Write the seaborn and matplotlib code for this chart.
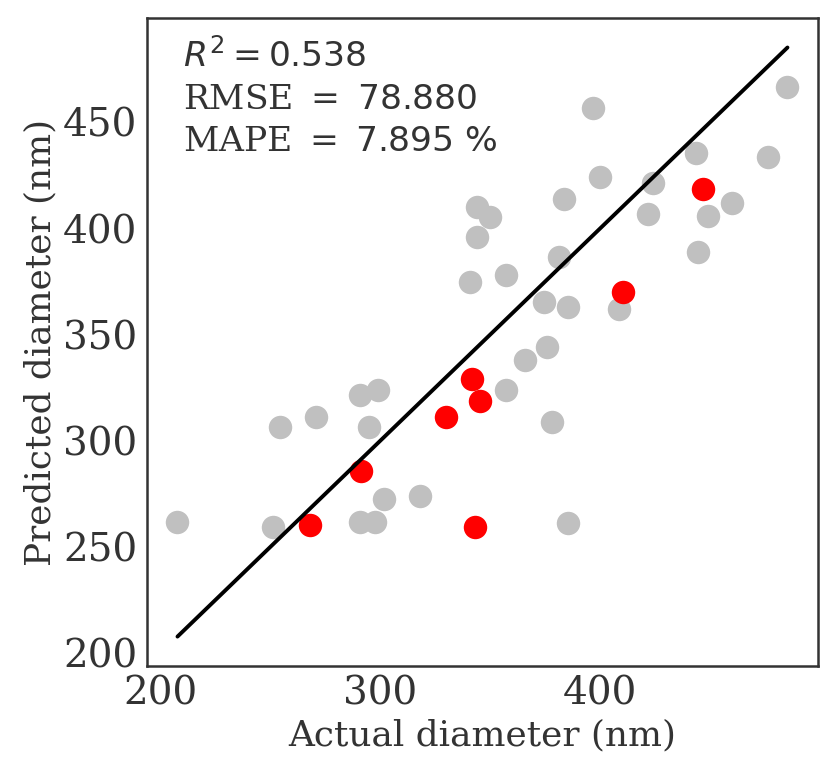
import numpy as np
import pandas as pd
import matplotlib
matplotlib.use("Agg")
import matplotlib.pyplot as plt
import seaborn as sns


# grey points (training set)
train_actual = [207.8, 251.2, 254.5, 271.0, 290.8, 299.1, 295.0, 301.7, 318.2, 290.8,
                297.6, 485.3, 396.8, 443.7, 476.5, 399.9, 424.0, 460.0, 449.1, 421.7,
                383.6, 344.0, 350.1, 344.0, 444.5, 381.3, 341.0, 357.3, 374.5, 385.6,
                408.7, 376.0, 366.1, 357.4, 378.0, 385.6]
train_pred = [261.6, 259.6, 306.4, 311.2, 321.4, 323.8, 306.4, 272.6, 274.2, 261.6,
              261.6, 466.6, 457.0, 435.5, 433.9, 424.1, 421.3, 411.9, 406.0, 407.1,
              413.9, 410.3, 405.3, 396.1, 389.0, 386.7, 374.9, 378.0, 365.4, 363.1,
              362.3, 344.2, 338.2, 323.8, 308.8, 261.1]

# red points (test set)
test_actual = [267.9, 291.5, 330.0, 342.0, 345.2, 343.0, 410.7, 446.8]
test_pred = [260.5, 286.0, 311.2, 329.3, 319.0, 259.2, 369.9, 418.5]

metrics_text = "$R^2 = 0.538$\nRMSE $=$ $78.880$\nMAPE $=$ $7.895$ $\\%$"

train = pd.DataFrame({"actual": train_actual, "pred": train_pred})
test = pd.DataFrame({"actual": test_actual, "pred": test_pred})

sns.set_style("white")
plt.rcParams["font.family"] = "DejaVu Serif"
plt.rcParams["mathtext.fontset"] = "dejavusans"

fig = plt.figure(figsize=(8.3, 7.75), dpi=100)
ax = fig.add_axes([0.1771, 0.1406, 0.8084, 0.8361])

sns.scatterplot(data=train, x="actual", y="pred", color="#c0c0c0", s=285,
                linewidth=0, alpha=1, ax=ax, zorder=2)
sns.scatterplot(data=test, x="actual", y="pred", color="#ff0000", s=285,
                linewidth=0, alpha=1, ax=ax, zorder=3)

lo = min(train["actual"].min(), test["actual"].min(), train["pred"].min(), test["pred"].min())
hi = max(train["actual"].max(), test["actual"].max(), train["pred"].max(), test["pred"].max())
ax.plot([lo, hi], [lo, hi], color="black", linewidth=2.8, zorder=4)

ax.set_xticks([200, 300, 400])
ax.set_yticks([200, 250, 300, 350, 400, 450])
ax.tick_params(labelsize=28, colors="#333333")

ax.set_xlabel("Actual diameter (nm)", fontsize=25.8, color="#333333")
ax.set_ylabel("Predicted diameter (nm)", fontsize=25.8, color="#333333")

ax.text(0.054, 0.97, metrics_text, transform=ax.transAxes, fontsize=24.8,
        va="top", ha="left", color="#333333", linespacing=1.42)

for sp in ax.spines.values():
    sp.set_color("#333333")
    sp.set_linewidth(1.8)

fig.savefig("out.png", dpi=100)
